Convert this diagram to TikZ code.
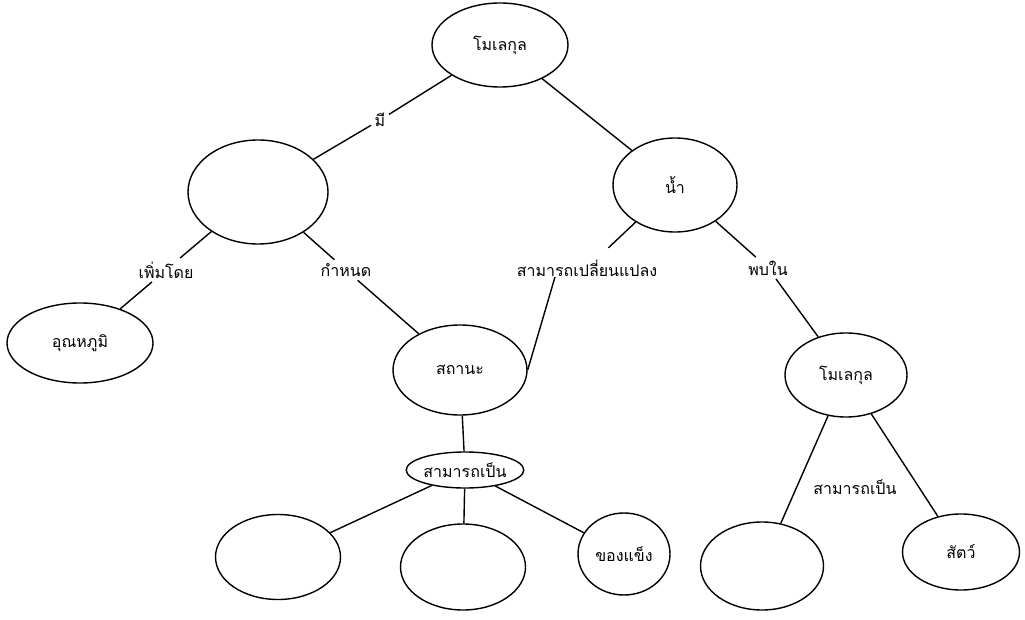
\documentclass[tikz,border=0pt]{standalone}
\usepackage{fontspec}
\newfontfamily\thaifont[Script=Thai]{Loma}
\usetikzlibrary{shapes.geometric}

\begin{document}
\begin{tikzpicture}[x=1pt,y=-1pt,
		bubble/.style={draw,ellipse,line width=1.4pt,inner sep=0pt},
		link/.style={inner sep=3pt},
		every node/.style={font=\thaifont\fontsize{16}{18}\selectfont},
		every path/.style={line width=1.4pt}]
	\useasboundingbox (0,0) rectangle (1025,620);
	% concepts
	\node[bubble,minimum width=136,minimum height=84] (mol) at (500,45) {โมเลกุล};
	\node[bubble,minimum width=140,minimum height=104] (emp1) at (258,192) {};
	\node[bubble,minimum width=124,minimum height=94] (nam) at (675,185) {น้ำ};
	\node[bubble,minimum width=146,minimum height=80] (temp) at (80,343) {อุณหภูมิ};
	\node[bubble,minimum width=134,minimum height=90] (sta) at (460,370) {สถานะ};
	\node[bubble,minimum width=122,minimum height=84] (mol2) at (846,375) {โมเลกุล};
	\node[bubble,minimum width=98,minimum height=36] (can) at (465,470) {สามารถเป็น};
	\node[bubble,minimum width=125,minimum height=85] (emp2) at (278,557) {};
	\node[bubble,minimum width=125,minimum height=86] (emp3) at (463,567) {};
	\node[bubble,minimum width=92,minimum height=82] (sol) at (624,554) {ของแข็ง};
	\node[bubble,minimum width=123,minimum height=88] (emp4) at (762,566) {};
	\node[bubble,minimum width=117,minimum height=76] (ani) at (961,552) {สัตว์};
	% linking words
	\node[link] (has) at (380,120) {มี};
	\node[link] (inc) at (166,270) {เพิ่มโดย};
	\node[link] (det) at (346,270) {กำหนด};
	\node[link] (chg) at (587,268) {สามารถเปลี่ยนแปลง};
	\node[link] (fnd) at (768,268) {พบใน};
	\node[link] (can2) at (855,487) {สามารถเป็น};
	% connectors
	\draw (mol) -- (has) -- (emp1);
	\draw (mol) -- (nam);
	\draw (emp1) -- (inc) -- (temp);
	\draw (emp1) -- (det) -- (sta);
	\draw[shorten >=12pt] (nam) -- (chg);
	\draw ([xshift=-32pt,yshift=3pt]chg.south) -- (sta.east);
	\draw (nam) -- (fnd) -- (mol2);
	\draw (sta) -- (can);
	\draw (can) -- (emp2);
	\draw (can) -- (emp3);
	\draw (can) -- (sol);
	\draw (mol2) -- (emp4);
	\draw (mol2) -- (ani);
\end{tikzpicture}
\end{document}
